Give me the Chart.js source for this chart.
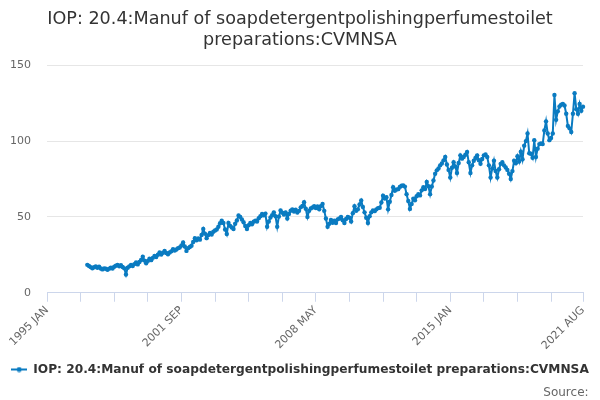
<!DOCTYPE html>
<html>
<head>
<meta charset="utf-8">
<script src="https://cdn.jsdelivr.net/npm/chart.js@4"></script>
<style>
  html, body { margin: 0; padding: 0; background: #fff; }
  #wrap { width: 600px; height: 400px; }
</style>
</head>
<body>
<div id="wrap"><canvas id="iopChart"></canvas></div>
<script>
const chartTitle = ["IOP: 20.4:Manuf of soapdetergentpolishingperfumestoilet", "preparations:CVMNSA"];
const seriesName = "IOP: 20.4:Manuf of soapdetergentpolishingperfumestoilet preparations:CVMNSA";
const sourceText = "Source:";
const monthNames = ["JAN", "FEB", "MAR", "APR", "MAY", "JUN", "JUL", "AUG", "SEP", "OCT", "NOV", "DEC"];
const firstYear = 1995;
const lastYear = 2021;
const lastMonth = 8;          // AUG
const emptyMonths = 24;       // 1995-1996 have no values
const yTicks = [0, 50, 100, 150];

// monthly values, 1997 JAN .. 2021 AUG
const values = [
  18.4, 17.6, 16.9, 16.2, 16.8, 17.4, 16.5, 17.2, 16.0, 15.4, 16.1, 15.8,   // 1997
  15.2, 15.9, 16.6, 16.0, 17.1, 17.8, 18.3, 17.5, 18.2, 17.0, 16.1, 12.0,   // 1998
  16.5, 17.4, 18.4, 17.6, 18.9, 19.9, 18.7, 20.3, 21.6, 23.7, 21.2, 19.4,   // 1999
  21.0, 22.4, 21.5, 23.0, 24.2, 23.6, 25.1, 26.5, 25.2, 26.4, 27.6, 26.2,   // 2000
  25.4, 26.6, 27.3, 28.7, 27.8, 28.5, 29.4, 29.8, 31.2, 33.2, 30.5, 27.6,   // 2001
  29.4, 30.2, 31.0, 33.5, 36.0, 34.6, 35.8, 35.0, 38.1, 42.0, 39.0, 36.0,   // 2002
  38.0, 39.5, 38.4, 40.2, 41.0, 41.7, 43.5, 45.8, 47.5, 46.0, 41.7, 38.7,   // 2003
  46.0, 44.1, 43.0, 42.0, 45.5, 47.6, 50.9, 50.0, 48.3, 46.5, 44.0, 42.0,   // 2004
  44.5, 46.0, 45.2, 46.8, 47.5, 47.0, 49.1, 50.5, 52.0, 51.0, 52.2, 43.5,   // 2005
  47.0, 49.6, 51.2, 53.0, 50.4, 43.5, 50.2, 54.2, 52.8, 51.6, 53.0, 49.0,   // 2006
  52.0, 54.1, 55.0, 53.6, 54.8, 52.9, 54.0, 56.3, 57.2, 59.7, 55.4, 50.0,   // 2007
  54.0, 55.6, 56.2, 57.0, 55.8, 56.9, 55.0, 57.1, 58.5, 54.0, 49.0, 43.5,   // 2008
  45.5, 48.0, 46.2, 47.5, 46.0, 48.4, 49.0, 50.0, 47.8, 46.0, 48.6, 50.0,   // 2009
  49.5, 47.0, 52.5, 57.0, 54.1, 55.0, 58.2, 60.8, 56.5, 53.0, 49.5, 46.0,   // 2010
  50.5, 53.0, 54.2, 53.8, 55.0, 55.8, 56.0, 59.5, 64.0, 62.1, 63.0, 55.0,   // 2011
  60.0, 64.5, 69.6, 67.2, 68.0, 68.3, 69.8, 70.5, 70.7, 70.0, 65.0, 60.5,   // 2012
  55.3, 58.5, 62.0, 61.0, 63.6, 65.0, 64.2, 67.5, 69.6, 68.4, 73.0, 70.2,   // 2013
  65.0, 70.1, 74.0, 78.5, 80.7, 82.0, 84.0, 85.3, 87.3, 89.5, 84.6, 81.0,   // 2014
  76.0, 82.4, 86.0, 83.2, 79.0, 85.5, 90.6, 88.4, 89.5, 91.0, 92.8, 86.0,   // 2015
  79.0, 84.0, 87.0, 88.8, 90.6, 87.4, 85.0, 88.2, 90.6, 91.2, 89.5, 84.0,   // 2016
  76.0, 82.0, 87.0, 80.3, 76.0, 81.4, 85.0, 86.1, 84.0, 82.6, 81.0, 78.5,   // 2017
  75.0, 80.2, 87.0, 85.4, 90.0, 86.5, 93.0, 88.0, 97.0, 100.0, 105.0, 92.0, // 2018
  91.6, 89.0, 100.5, 89.5, 95.0, 98.0, 98.4, 98.0, 107.0, 113.0, 105.0, 100.6, // 2019
  102.0, 105.0, 130.4, 114.0, 119.6, 122.8, 124.0, 124.5, 123.5, 118.0, 110.0, 108.4, // 2020
  106.0, 118.0, 131.6, 121.0, 118.0, 124.5, 120.0, 122.7                    // 2021
];

const labels = [];
for (let y = firstYear; y <= lastYear; y++) {
  for (let m = 0; m < 12; m++) {
    if (y === lastYear && m >= lastMonth) break;
    labels.push(y + " " + monthNames[m]);
  }
}
const plotData = new Array(emptyMonths).fill(null).concat(values);
const lastIdx = labels.length - 1;
const lineColor = '#0a7bc1';

function isTickIdx(i) { return i % 20 === 0 || i === lastIdx; }
function isLabelIdx(i) { return i % 80 === 0 || i === lastIdx; }

// legend marker: short line with a dot, like the original
function legendMarker() {
  const c = document.createElement('canvas');
  c.width = 16; c.height = 6;
  const g = c.getContext('2d');
  g.strokeStyle = lineColor;
  g.lineWidth = 2;
  g.beginPath(); g.moveTo(0, 3); g.lineTo(16, 3); g.stroke();
  g.fillStyle = lineColor;
  g.beginPath(); g.arc(8, 3, 2.5, 0, Math.PI * 2); g.fill();
  return c;
}

Chart.defaults.font.family = "'DejaVu Sans', sans-serif";

new Chart(document.getElementById('iopChart'), {
  type: 'line',
  data: {
    labels: labels,
    datasets: [{
      label: seriesName,
      data: plotData,
      borderColor: lineColor,
      backgroundColor: lineColor,
      borderWidth: 2,
      pointRadius: 2.2,
      pointHoverRadius: 3,
      pointBackgroundColor: lineColor,
      pointBorderWidth: 0,
      tension: 0,
      spanGaps: false
    }]
  },
  options: {
    responsive: true,
    maintainAspectRatio: false,
    animation: false,
    layout: { padding: { left: 0, right: 0, top: 0, bottom: 0 } },
    scales: {
      x: {
        offset: false,
        border: { color: '#ccd6eb' },
        grid: {
          drawOnChartArea: false,
          drawTicks: true,
          tickLength: 9,
          tickColor: ctx => isTickIdx(ctx.index) ? '#ccd6eb' : 'rgba(0,0,0,0)'
        },
        ticks: {
          autoSkip: false,
          minRotation: 45,
          maxRotation: 45,
          color: '#666',
          font: { size: 11 },
          padding: 2,
          callback: function (value, index) {
            return isLabelIdx(index) ? this.getLabelForValue(value) : '';
          }
        },
        afterFit: axis => {
          axis.paddingLeft = 0;
          axis.paddingRight = 17;
          axis.height = axis.height + 9;
        }
      },
      y: {
        min: 0,
        max: 150,
        border: { display: false },
        grid: {
          color: ctx => ctx.tick && ctx.tick.value === 0 ? 'rgba(0,0,0,0)' : '#e6e6e6',
          drawTicks: false
        },
        afterBuildTicks: axis => { axis.ticks = yTicks.map(v => ({ value: v })); },
        afterFit: axis => { axis.width = 47; },
        ticks: { color: '#666', font: { size: 11 }, padding: 16 }
      }
    },
    plugins: {
      title: {
        display: true,
        text: chartTitle,
        color: '#333',
        font: { size: 17.6, weight: 'normal' },
        padding: { top: 9, bottom: 14 }
      },
      subtitle: {
        display: true,
        position: 'bottom',
        align: 'end',
        text: sourceText + '   ',
        color: '#666',
        font: { size: 12 },
        padding: { top: 0, bottom: 0 }
      },
      legend: {
        position: 'bottom',
        labels: {
          usePointStyle: true,
          pointStyle: legendMarker(),
          pointStyleWidth: 16,
          color: '#333',
          font: { size: 12.2, weight: 'bold' },
          padding: 0
        }
      },
      tooltip: { enabled: false }
    }
  }
});
</script>
</body>
</html>
